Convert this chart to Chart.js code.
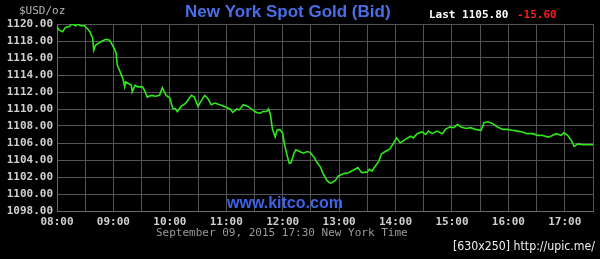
<!DOCTYPE html>
<html>
<head>
<meta charset="utf-8">
<script src="https://cdn.jsdelivr.net/npm/chart.js@4.4.0/dist/chart.umd.min.js"></script>
<style>
  html, body { margin: 0; padding: 0; background: #000; }
  #wrap { width: 600px; height: 259px; }
</style>
</head>
<body>
<div id="wrap"><canvas id="goldChart" width="600" height="259"></canvas></div>
<script>
// minutos do dia (480 = 08:00) e preço bid
const minutos = [480, 482, 486, 489, 493, 496, 500, 502, 505, 509, 512, 515, 518, 519, 521, 525, 528, 532, 536, 538,
  541, 543, 544, 547, 550, 552, 553, 556, 559, 560, 563, 566, 571, 573, 576, 580, 585, 589, 592, 596,
  600, 603, 606, 608, 612, 617, 623, 626, 630, 633, 637, 640, 644, 648, 653, 658, 664, 667, 671, 674,
  678, 683, 688, 692, 696, 699, 703, 705, 707, 709, 712, 714, 717, 720, 722, 725, 727, 729, 732, 734,
  738, 742, 746, 749, 753, 756, 760, 763, 767, 770, 772, 776, 779, 785, 790, 795, 800, 804, 810, 812,
  815, 818, 822, 825, 829, 834, 838, 841, 845, 850, 856, 859, 863, 868, 872, 875, 879, 884, 890, 893,
  898, 902, 906, 909, 915, 920, 925, 931, 934, 938, 943, 948, 954, 959, 964, 970, 975, 980, 986, 991,
  996, 1002, 1005, 1011, 1016, 1019, 1023, 1027, 1030, 1034, 1039, 1044, 1050];
const precos = [1119.7, 1119.3, 1119.1, 1119.6, 1119.7, 1120.0, 1119.8, 1120.0, 1119.8, 1119.8, 1119.5, 1119.1, 1118.3, 1116.9, 1117.5, 1117.8, 1118.0, 1118.2, 1118.1, 1117.7,
  1117.1, 1116.5, 1115.2, 1114.4, 1113.6, 1112.6, 1113.2, 1113.0, 1112.8, 1112.0, 1112.8, 1112.6, 1112.6, 1112.2, 1111.4, 1111.6, 1111.5, 1111.6, 1112.5, 1111.6,
  1111.3, 1110.1, 1110.0, 1109.7, 1110.3, 1110.7, 1111.6, 1111.4, 1110.3, 1110.9, 1111.6, 1111.3, 1110.5, 1110.7, 1110.5, 1110.3, 1110.0, 1109.6, 1110.0, 1109.9,
  1110.5, 1110.3, 1109.9, 1109.6, 1109.5, 1109.7, 1109.7, 1110.0, 1109.3, 1107.7, 1106.7, 1107.5, 1107.6, 1107.1, 1105.8, 1104.4, 1103.6, 1103.7, 1104.8, 1105.2,
  1105.0, 1104.8, 1105.0, 1104.9, 1104.4, 1103.8, 1103.2, 1102.4, 1101.6, 1101.3, 1101.3, 1101.6, 1102.1, 1102.4, 1102.5, 1102.8, 1103.1, 1102.5, 1102.6, 1102.9,
  1102.7, 1103.2, 1103.8, 1104.7, 1105.0, 1105.3, 1106.0, 1106.6, 1106.0, 1106.4, 1106.8, 1106.6, 1107.1, 1107.3, 1107.0, 1107.4, 1107.1, 1107.4, 1107.1, 1107.6,
  1107.9, 1107.8, 1108.2, 1107.9, 1107.7, 1107.8, 1107.6, 1107.5, 1108.4, 1108.5, 1108.3, 1107.9, 1107.6, 1107.6, 1107.5, 1107.4, 1107.3, 1107.1, 1107.1, 1106.9,
  1106.9, 1106.7, 1106.8, 1107.1, 1106.9, 1107.2, 1106.9, 1106.3, 1105.6, 1105.9, 1105.8, 1105.8, 1105.8];

// escalas
const horaInicio = 480, horaFim = 1050;
const precoMin = 1098, precoMax = 1120;

// textos
const titulo = 'New York Spot Gold (Bid)';
const unidade = '$USD/oz';
const ultimo = 'Last 1105.80';
const variacao = '-15.60';
const rodape = 'September 09, 2015 17:30 New York Time';
const site = 'www.kitco.com';
const marca = '[630x250] http://upic.me/';

const mono = '"DejaVu Sans Mono", monospace';

const pontos = minutos.map((m, i) => ({ x: m, y: precos[i] }));

// textos extras desenhados direto no canvas
const textosKitco = {
  id: 'textosKitco',
  beforeDraw(chart) {
    const ctx = chart.ctx;
    ctx.save();
    ctx.fillStyle = '#000';
    ctx.fillRect(0, 0, chart.width, chart.height);
    ctx.restore();
  },
  beforeDatasetsDraw(chart) {
    const ctx = chart.ctx;
    ctx.save();
    ctx.fillStyle = '#3f63e6';
    ctx.font = 'bold 16px "Liberation Sans", Arial, sans-serif';
    ctx.textBaseline = 'middle';
    ctx.textAlign = 'left';
    ctx.fillText(site, 227, 204, 126);
    ctx.restore();
  },
  afterDraw(chart) {
    const ctx = chart.ctx;
    ctx.save();
    ctx.textBaseline = 'middle';
    ctx.textAlign = 'left';

    ctx.font = '11px ' + mono;
    ctx.fillStyle = '#b8b8b8';
    ctx.fillText(unidade, 19, 11);

    ctx.font = 'bold 17px "Liberation Sans", Arial, sans-serif';
    ctx.fillStyle = '#4a6ee8';
    ctx.fillText(titulo, 185, 12, 211);

    ctx.font = 'bold 11px ' + mono;
    ctx.fillStyle = '#ffffff';
    ctx.fillText(ultimo, 429, 15);
    ctx.fillStyle = '#ff1a1a';
    ctx.fillText(variacao, 517, 15);

    ctx.font = '11px ' + mono;
    ctx.fillStyle = '#9a9a9a';
    ctx.fillText(rodape, 156, 233);

    ctx.font = '13px "Liberation Sans Narrow", "DejaVu Sans Condensed", sans-serif';
    ctx.fillStyle = '#f0f0f0';
    ctx.fillText(marca, 453, 247, 142);
    ctx.restore();
  }
};

new Chart(document.getElementById('goldChart'), {
  type: 'line',
  data: {
    datasets: [{
      data: pontos,
      borderColor: '#2ee81a',
      borderWidth: 1.6,
      pointRadius: 0,
      tension: 0,
      fill: false
    }]
  },
  options: {
    responsive: false,
    animation: false,
    events: [],
    layout: { padding: { top: 24, right: 7, left: 0, bottom: 0 } },
    plugins: {
      legend: { display: false },
      tooltip: { enabled: false }
    },
    scales: {
      x: {
        type: 'linear',
        min: horaInicio,
        max: horaFim,
        afterFit(scale) { scale.height = 48; },
        grid: { color: '#555', lineWidth: 1, drawTicks: false },
        border: { color: '#6a6a6a', width: 1 },
        ticks: {
          stepSize: 30,
          autoSkip: false,
          maxRotation: 0,
          padding: 5,
          color: '#d0d0d0',
          font: { family: mono, size: 11, weight: 'bold' },
          callback: (v) => v % 60 === 0 ? String(v / 60).padStart(2, '0') + ':00' : ''
        }
      },
      y: {
        min: precoMin,
        max: precoMax,
        afterFit(scale) { scale.width = 57; },
        grid: { color: '#555', lineWidth: 1, drawTicks: false },
        border: { color: '#6a6a6a', width: 1 },
        ticks: {
          stepSize: 2,
          padding: 4,
          color: '#d0d0d0',
          font: { family: mono, size: 11, weight: 'bold' },
          callback: (v) => v.toFixed(2)
        }
      }
    }
  },
  plugins: [textosKitco]
});
</script>
</body>
</html>
